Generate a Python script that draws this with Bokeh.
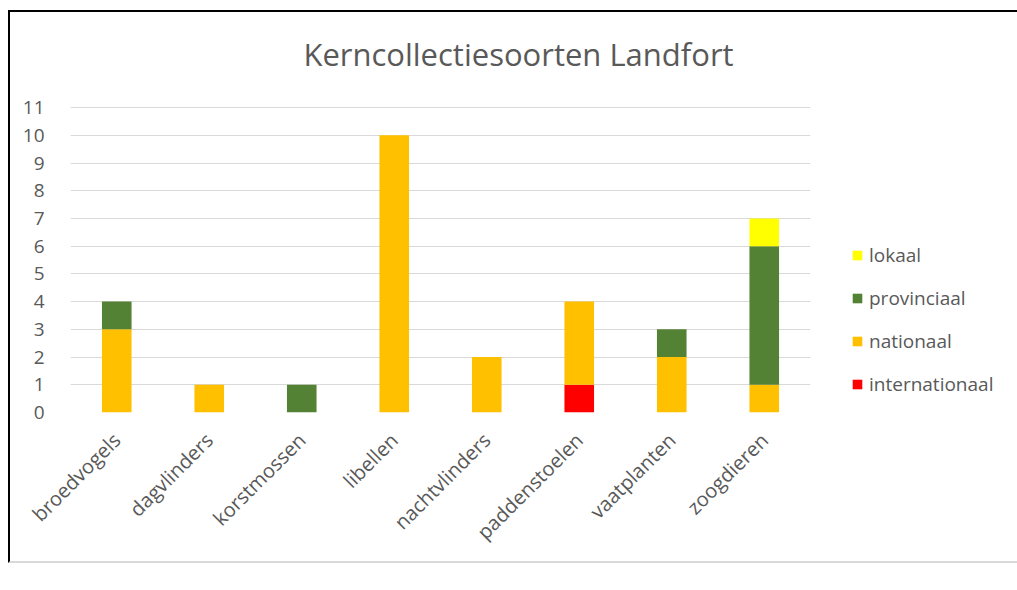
import math
from bokeh.plotting import figure
from bokeh.models import Legend, LegendItem, FixedTicker, ColumnDataSource, Label
from bokeh.embed import file_html
from bokeh.resources import INLINE

categories = ["broedvogels", "dagvlinders", "korstmossen", "libellen",
              "nachtvlinders", "paddenstoelen", "vaatplanten", "zoogdieren"]
internationaal = [0, 0, 0, 0, 0, 1, 0, 0]
nationaal = [3, 1, 0, 10, 2, 3, 2, 1]
provinciaal = [1, 0, 1, 0, 0, 0, 1, 5]
lokaal = [0, 0, 0, 0, 0, 0, 0, 1]
series = ["internationaal", "nationaal", "provinciaal", "lokaal"]
colors = ["#FF0000", "#FFC000", "#548235", "#FFFF00"]
y_ticks = list(range(0, 12))
title_text = "Kerncollectiesoorten Landfort"

FONT = "Open Sans"
GREY = "#595959"

source = ColumnDataSource(dict(cat=categories, internationaal=internationaal,
                               nationaal=nationaal, provinciaal=provinciaal,
                               lokaal=lokaal))

# frame extends upward over the title area; ticks/grid stop at 11
p = figure(x_range=categories, y_range=(0, 13.78), frame_width=740, frame_height=382,
           min_border_left=60, min_border_right=205, min_border_top=18,
           min_border_bottom=149, output_backend="svg", toolbar_location=None)
p.margin = (10, 0, 0, 8)
p.styles = {"border-top": "2px solid black", "border-left": "2px solid black",
            "border-bottom": "2px solid #d9d9d9"}

renderers = p.vbar_stack(series, x="cat", width=0.32, color=colors, source=source,
                         line_width=0)

p.outline_line_color = None
p.background_fill_color = "white"
p.border_fill_color = "white"
p.xgrid.grid_line_color = None
p.ygrid.grid_line_color = "#d9d9d9"
p.ygrid.grid_line_width = 1
p.x_range.range_padding = 0
p.yaxis.ticker = FixedTicker(ticks=y_ticks)
for ax in (p.xaxis[0], p.yaxis[0]):
    ax.axis_line_color = None
    ax.major_tick_line_color = None
    ax.minor_tick_line_color = None
    ax.major_label_text_font = FONT
    ax.major_label_text_font_size = "19px"
    ax.major_label_text_color = GREY
p.xaxis.major_label_text_font_size = "20px"
p.yaxis.major_label_standoff = 20
p.xaxis.major_label_orientation = math.pi / 4
p.xaxis.major_label_standoff = 18

title = Label(x=448, y=359, x_units="screen", y_units="screen",
              text=title_text, text_font=FONT, text_font_size="31px",
              text_color=GREY, text_align="center", text_baseline="middle")
p.add_layout(title)

items = [LegendItem(label=s, renderers=[r]) for s, r in zip(series, renderers)]
legend = Legend(items=list(reversed(items)), location=(41, 15),
                label_text_font=FONT, label_text_font_size="19px",
                label_text_color=GREY, glyph_width=12, glyph_height=12,
                label_height=20, spacing=17, padding=0, margin=0,
                label_standoff=6, border_line_color=None,
                background_fill_alpha=0)
p.add_layout(legend, "right")

open("out.html", "w").write(file_html(p, INLINE))
